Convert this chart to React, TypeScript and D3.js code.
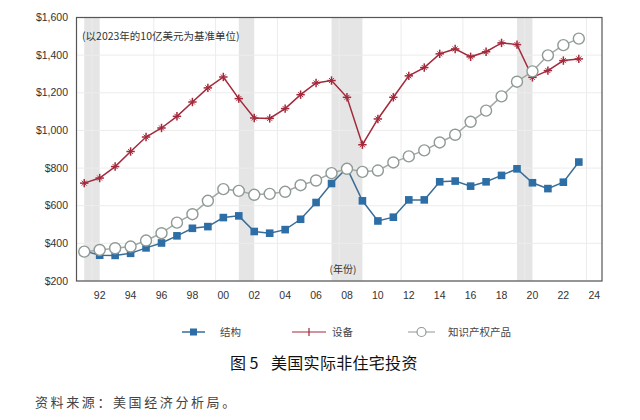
import React from "react";
import * as d3 from "d3";

const years = d3.range(1991, 2024);
const structures = [360, 337, 336, 347, 376, 402, 440, 480, 489, 537, 546, 463, 454, 473, 528, 617, 718, 800, 626, 519, 539, 631, 631, 727, 731, 704, 727, 761, 796, 722, 691, 725, 832];
const equipment = [720, 747, 808, 888, 965, 1013, 1075, 1151, 1226, 1284, 1169, 1066, 1064, 1116, 1190, 1252, 1265, 1176, 924, 1061, 1176, 1290, 1334, 1407, 1433, 1391, 1418, 1465, 1456, 1282, 1318, 1371, 1380];
const ipp = [356, 365, 374, 383, 415, 454, 510, 555, 626, 688, 679, 658, 663, 674, 709, 734, 773, 796, 780, 787, 830, 862, 894, 936, 977, 1046, 1105, 1181, 1259, 1314, 1399, 1453, 1488];
const yTicks = [200, 400, 600, 800, 1000, 1200, 1400, 1600];
const xTickYears = d3.range(1992, 2025, 2);
const gridYears = d3.range(1992, 2025, 4);
const recessions: [number, number][] = [[1991, 1992], [2001, 2002], [2007, 2009], [2019, 2020]];
const legendItems = ["结构", "设备", "知识产权产品"];

const W = 640, H = 420;
const left = 76.5, right = 602, top = 17.5, bottom = 281;

const BLUE = "#2c6ea5";
const RED = "#a3293b";
const GREEN_LINE = "#a3aaa6";
const GREEN_STROKE = "#8e9a93";

export default function App() {
  const x = d3.scaleLinear().domain([1991, 2025]).range([left, right]);
  const px = (yr: number) => x(yr + 0.5);
  const y = d3.scaleLinear().domain([200, 1600]).range([bottom, top]);
  const line = d3.line<number>().x((_, i) => px(years[i])).y((d) => y(d));
  const fmt = (v: number) => "$" + d3.format(",")(v);
  const font = "Arial, 'Liberation Sans', 'Noto Sans CJK SC', sans-serif";
  const cjk = "'Noto Sans CJK SC', sans-serif";

  const star = (cx: number, cy: number, key: string | number) => (
    <g key={key} stroke={RED} strokeWidth={1.5}>
      <line x1={cx - 4.2} x2={cx + 4.2} y1={cy} y2={cy} />
      <line x1={cx} x2={cx} y1={cy - 4.2} y2={cy + 4.2} />
      <line x1={cx - 2.5} x2={cx + 2.5} y1={cy - 2.5} y2={cy + 2.5} strokeWidth={1} />
      <line x1={cx - 2.5} x2={cx + 2.5} y1={cy + 2.5} y2={cy - 2.5} strokeWidth={1} />
    </g>
  );

  const legendY = 332;
  return (
    <div style={{ position: "absolute", left: 0, top: 0 }}>
      <svg width={W} height={H} style={{ display: "block", background: "#fff" }}>
        {recessions.map(([a, b], i) => (
          <rect key={i} x={px(a)} y={top} width={px(b) - px(a)} height={bottom - top} fill="#e5e5e5" />
        ))}
        {yTicks.map((t) => (
          <line key={t} x1={left} x2={right} y1={y(t)} y2={y(t)} stroke="#ececec" strokeWidth={1} />
        ))}
        {gridYears.map((g) => (
          <line key={g} x1={x(g)} x2={x(g)} y1={top} y2={bottom} stroke="#ececec" strokeWidth={1} />
        ))}
        <rect x={left} y={top} width={right - left} height={bottom - top} fill="none" stroke="#555" strokeWidth={1.2} />
        {yTicks.map((t) => (
          <text key={t} x={68} y={y(t)} dy="0.35em" textAnchor="end" fontFamily={font} fontSize={10.5} fill="#333">
            {fmt(t)}
          </text>
        ))}
        {xTickYears.map((t) => (
          <text key={t} x={px(t)} y={295} dy="0.35em" textAnchor="middle" fontFamily={font} fontSize={10.5} fill="#333">
            {String(t % 100).padStart(2, "0")}
          </text>
        ))}
        <text x={82} y={36} dy="0.35em" fontFamily={cjk} fontSize={10.5} fill="#333">(以2023年的10亿美元为基准单位)</text>
        <text x={343} y={269} dy="0.35em" textAnchor="middle" fontFamily={cjk} fontSize={10} fill="#333">(年份)</text>

        <path d={line(structures) || ""} fill="none" stroke="#3a6d96" strokeWidth={1.5} />
        {structures.map((v, i) => (
          <rect key={"s" + i} x={px(years[i]) - 3.8} y={y(v) - 3.8} width={7.6} height={7.6} fill={BLUE} />
        ))}
        <path d={line(equipment) || ""} fill="none" stroke={RED} strokeWidth={1.5} />
        {equipment.map((v, i) => star(px(years[i]), y(v), "e" + i))}
        <path d={line(ipp) || ""} fill="none" stroke={GREEN_LINE} strokeWidth={1.5} />
        {ipp.map((v, i) => (
          <circle key={"c" + i} cx={px(years[i])} cy={y(v)} r={5.5} fill="#fff" stroke={GREEN_STROKE} strokeWidth={1.4} />
        ))}

        <line x1={182} x2={205} y1={legendY} y2={legendY} stroke="#3a6d96" strokeWidth={1.5} />
        <rect x={190} y={legendY - 3.5} width={7} height={7} fill={BLUE} />
        <text x={220} y={legendY} dy="0.35em" fontFamily={cjk} fontSize={10.5} fill="#444">{legendItems[0]}</text>
        <line x1={292} x2={326} y1={legendY} y2={legendY} stroke={RED} strokeWidth={1.2} />
        <line x1={309} x2={309} y1={legendY - 4} y2={legendY + 4} stroke={RED} strokeWidth={1.2} />
        <text x={332} y={legendY} dy="0.35em" fontFamily={cjk} fontSize={10.5} fill="#444">{legendItems[1]}</text>
        <line x1={408} x2={435} y1={legendY} y2={legendY} stroke={GREEN_LINE} strokeWidth={1.2} />
        <circle cx={421.5} cy={legendY} r={4.5} fill="#fff" stroke={GREEN_STROKE} strokeWidth={1.2} />
        <text x={448} y={legendY} dy="0.35em" fontFamily={cjk} fontSize={10.5} fill="#444">{legendItems[2]}</text>

        <text x={230} y={363} dy="0.35em" fontFamily={cjk} fontSize={16} fill="#111">图 5</text>
        <text x={271} y={363} dy="0.35em" fontFamily={cjk} fontSize={16} fill="#111" letterSpacing={0.3}>美国实际非住宅投资</text>
        <text x={35} y={402} dy="0.35em" fontFamily={cjk} fontSize={13} fill="#444" letterSpacing={2.6}>资料来源：美国经济分析局。</text>
      </svg>
    </div>
  );
}
